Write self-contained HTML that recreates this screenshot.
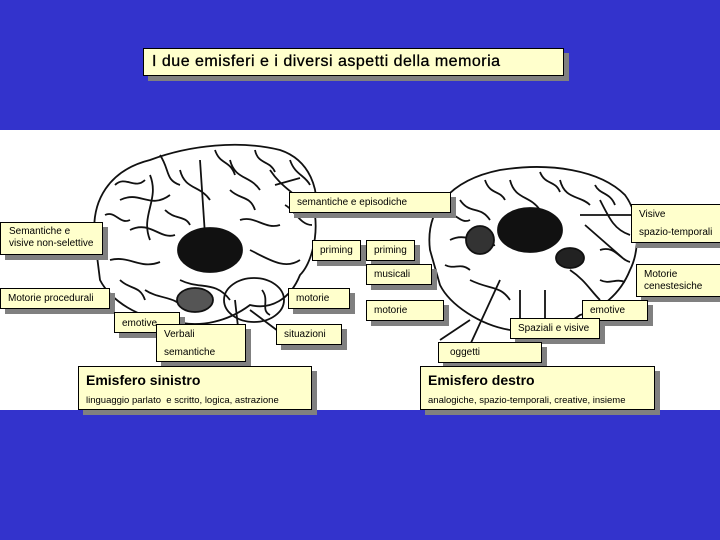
<!DOCTYPE html>
<html><head><meta charset="utf-8"><style>
body{margin:0;width:720px;height:540px;position:relative;background:#fff;font-family:"Liberation Sans",Arial,sans-serif;overflow:hidden}
.band{position:absolute;left:0;width:720px;background:#3333cc}
.b{position:absolute;background:#ffffcc;border:1px solid #000;box-shadow:5px 5px 0 #808080;font-size:10px;color:#000;box-sizing:border-box;padding:0 0 0 7px;line-height:12px}
svg{position:absolute;left:0;top:0}
</style></head><body>
<div class="band" style="top:0;height:130px"></div>
<div class="band" style="top:410px;height:130px"></div>
<div class="b" style="left:143px;top:48px;width:421px;height:28px;font-size:16px;padding-left:8px;line-height:26px;letter-spacing:0.5px;-webkit-text-stroke:0.3px #000">I due emisferi e i diversi aspetti della memoria</div>

<svg width="720" height="540" fill="none" stroke="#111" stroke-width="1.8">
<!-- left brain -->
<path d="M95 240 C90 200 110 170 150 160 C190 145 240 140 280 150 C310 160 320 190 315 215 C318 240 310 265 300 275 C290 300 270 310 250 305 C230 320 200 330 170 320 C140 320 110 300 100 280 Z"/>
<path d="M120 200 C140 190 150 210 170 195 M180 170 C185 190 200 185 210 200 M230 160 C235 180 250 175 260 190 M270 170 C280 185 290 190 300 200 M130 230 C150 220 160 240 175 235 M110 260 C130 255 140 270 160 262 M240 220 C255 215 265 230 280 225 M200 160 L205 235 M150 175 C160 200 140 215 150 240 M250 250 C270 260 285 270 300 260 M180 280 C200 290 215 280 230 300 M145 290 C160 300 175 295 185 310 M115 185 C125 175 135 190 145 180 M160 155 C170 170 165 180 180 185 M215 150 C220 165 230 160 235 175 M255 150 C258 165 270 160 275 172 M290 160 C295 175 305 175 310 185 M105 215 C115 210 120 225 130 220 M285 205 C295 210 300 225 312 225 M120 280 C130 290 140 285 145 300 M230 190 C240 200 250 195 255 210 M165 210 C175 220 185 215 190 225"/>
<ellipse cx="254" cy="300" rx="30" ry="22"/>
<path d="M250 310 L290 340 M235 300 L240 345 M275 185 L300 178 M262 290 C270 300 260 310 270 315"/>
<ellipse cx="210" cy="250" rx="32" ry="22" fill="#111"/>
<ellipse cx="195" cy="300" rx="18" ry="12" fill="#555"/>
<!-- right brain -->
<path d="M430 250 C425 210 450 180 500 170 C550 162 600 170 625 195 C640 215 640 250 630 270 C620 295 600 310 580 315 C560 330 530 335 510 330 C480 325 450 305 440 285 Z"/>
<path d="M460 200 C470 215 480 205 490 220 M510 180 C515 200 530 195 540 210 M560 180 C565 200 580 195 590 205 M600 200 C610 220 615 230 630 235 M450 240 C470 230 480 250 495 245 M600 250 C615 245 620 260 630 262 M570 270 C585 280 590 290 600 300 M470 280 C490 290 500 285 510 300 M580 215 L635 215 M585 225 L625 260 M445 215 C455 210 460 225 470 220 M485 180 C490 195 500 190 505 200 M540 172 C545 185 555 180 560 192 M595 185 C600 195 610 192 615 205 M445 265 C455 270 460 262 470 270 M600 280 C610 285 615 278 625 282"/>
<ellipse cx="530" cy="230" rx="32" ry="22" fill="#111"/>
<ellipse cx="480" cy="240" rx="14" ry="14" fill="#333"/>
<ellipse cx="570" cy="258" rx="14" ry="10" fill="#222"/>
<path d="M520 290 L520 345 M545 290 L545 335 M500 280 L470 345 M470 320 L440 340"/>
</svg>

<div class="b" style="left:0;top:222px;width:103px;height:33px;padding-top:3px;padding-left:8px">Semantiche e<br>visive non-selettive</div>
<div class="b" style="left:289px;top:192px;width:162px;height:21px;line-height:19px">semantiche e episodiche</div>
<div class="b" style="left:312px;top:240px;width:49px;height:21px;line-height:19px">priming</div>
<div class="b" style="left:0;top:288px;width:110px;height:21px;line-height:19px">Motorie procedurali</div>
<div class="b" style="left:288px;top:288px;width:62px;height:21px;line-height:19px">motorie</div>
<div class="b" style="left:114px;top:312px;width:66px;height:21px;line-height:21px">emotive</div>
<div class="b" style="left:156px;top:324px;width:90px;height:38px;line-height:12px;padding-top:4px">Verbali<div style="margin-top:6px">semantiche</div></div>
<div class="b" style="left:276px;top:324px;width:66px;height:21px;line-height:19px">situazioni</div>
<div class="b" style="left:78px;top:366px;width:234px;height:44px;padding-top:5px"><div style="font-size:14px;font-weight:bold;line-height:16px">Emisfero sinistro</div><div style="margin-top:7px;font-size:9.5px">linguaggio parlato&nbsp; e scritto, logica, astrazione</div></div>

<div class="b" style="left:366px;top:240px;width:49px;height:21px;line-height:19px">priming</div>
<div class="b" style="left:366px;top:264px;width:66px;height:21px;line-height:19px">musicali</div>
<div class="b" style="left:366px;top:300px;width:78px;height:21px;line-height:19px">motorie</div>
<div class="b" style="left:631px;top:204px;width:92px;height:39px;padding-top:4px;line-height:12px">Visive<div style="margin-top:6px">spazio-temporali</div></div>
<div class="b" style="left:636px;top:264px;width:87px;height:33px;padding-top:4px;line-height:12px">Motorie<br>cenestesiche</div>
<div class="b" style="left:582px;top:300px;width:66px;height:21px;line-height:19px">emotive</div>
<div class="b" style="left:510px;top:318px;width:90px;height:21px;line-height:19px">Spaziali e visive</div>
<div class="b" style="left:438px;top:342px;width:104px;height:21px;line-height:19px;padding-left:11px">oggetti</div>
<div class="b" style="left:420px;top:366px;width:235px;height:44px;padding-top:5px"><div style="font-size:14px;font-weight:bold;line-height:16px">Emisfero destro</div><div style="margin-top:7px;font-size:9.5px">analogiche, spazio-temporali, creative, insieme</div></div>
</body></html>
